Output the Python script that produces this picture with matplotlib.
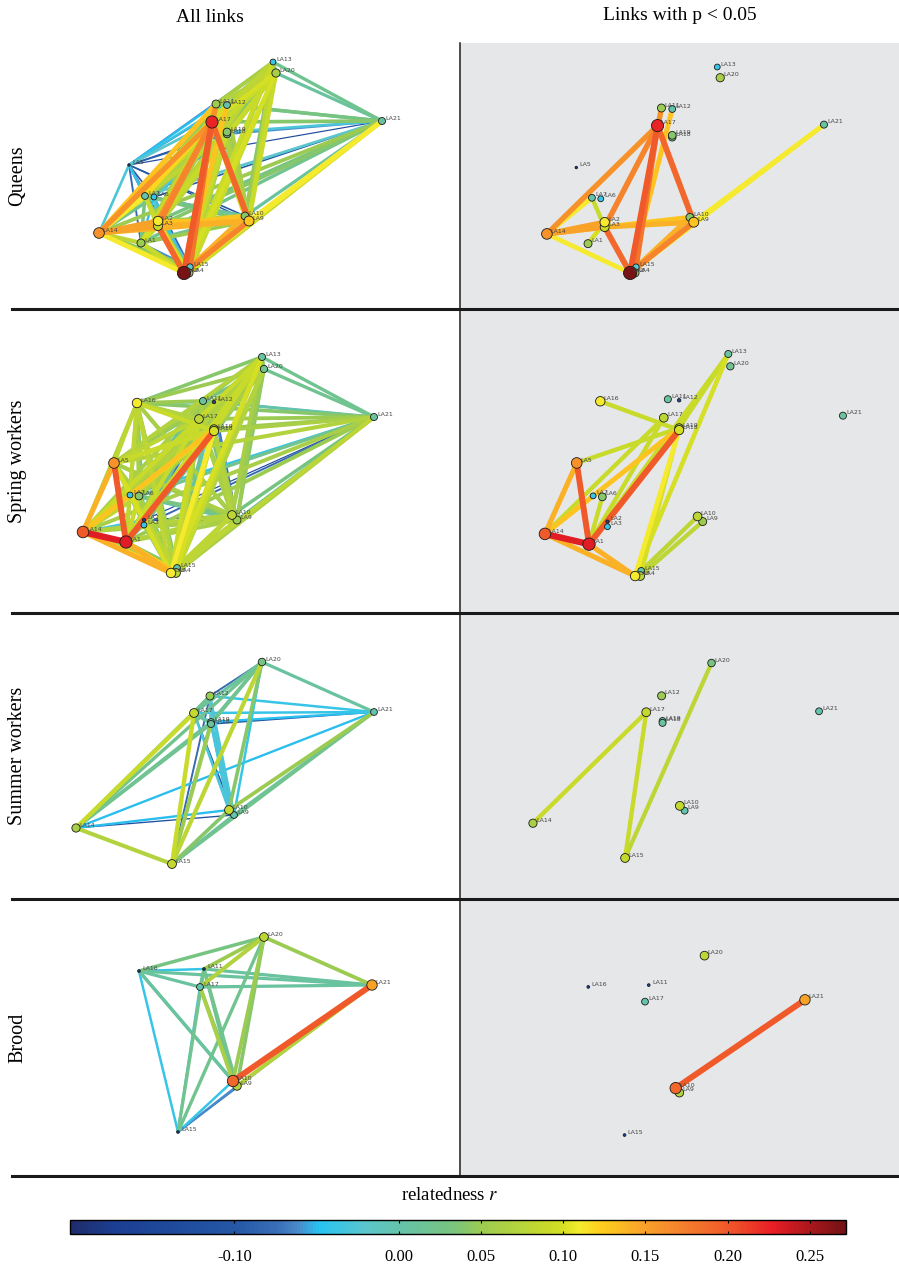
import matplotlib
matplotlib.use("Agg")
import matplotlib.pyplot as plt
from matplotlib.colors import LinearSegmentedColormap, Normalize
from matplotlib.cm import ScalarMappable
from matplotlib.lines import Line2D
from matplotlib.patches import Rectangle

plt.rcParams['font.family'] = ['Liberation Serif', 'DejaVu Serif']
plt.rcParams['mathtext.fontset'] = 'stix'
plt.rcParams['axes.unicode_minus'] = False

# ---------------- data (positions in layout units, r = relatedness) ----------------
row_titles = ["Queens", "Spring workers", "Summer workers", "Brood"]
col_titles = ["All links", "Links with p < 0.05"]

queens_nodes = ["LA1", "LA2", "LA3", "LA4", "LA5", "LA6", "LA7", "LA8", "LA9", "LA10",
                "LA11", "LA12", "LA13", "LA14", "LA15", "LA17", "LA18", "LA19", "LA20", "LA21"]
queens_x = [141, 158, 158, 189, 129, 154, 145, 184, 249, 245, 216, 227, 273, 99, 190, 212, 227, 227, 276, 382]
queens_y = [243, 221, 226, 273, 165, 197, 196, 273, 221, 216, 104, 105, 62, 233, 267, 122, 134, 132, 73, 121]
queens_node_r = [0.05, 0.11, 0.09, 0.05, -0.18, -0.04, 0.00, 0.27, 0.13, 0.04,
                 0.05, 0.00, -0.04, 0.16, -0.02, 0.225, 0.03, 0.04, 0.06, 0.01]
queens_r = [
    [0.10, 0.09, 0.06, -0.08, -0.05, 0.03, 0.09, 0.05, 0.02, 0.06, 0.04, 0.05, 0.08, -0.06, 0.09, 0.02, 0.03, 0.07, 0.02],
    [0.12, 0.08, -0.10, -0.03, 0.07, 0.12, 0.13, 0.06, 0.08, 0.07, 0.08, 0.15, -0.02, 0.16, 0.05, 0.06, 0.09, 0.03],
    [0.10, -0.12, -0.02, 0.09, 0.19, 0.14, 0.07, 0.07, 0.06, 0.07, 0.15, 0.00, 0.17, 0.04, 0.05, 0.08, 0.04],
    [-0.06, -0.04, 0.04, 0.12, 0.10, 0.08, 0.09, 0.08, 0.07, 0.10, -0.01, 0.18, 0.06, 0.07, 0.09, 0.09],
    [-0.10, -0.04, -0.08, -0.12, -0.10, -0.05, -0.07, -0.06, -0.03, -0.13, -0.02, -0.09, -0.11, -0.04, -0.13],
    [0.00, -0.05, -0.07, -0.09, -0.03, -0.05, -0.04, 0.02, -0.08, 0.03, -0.06, -0.05, -0.02, -0.10],
    [0.07, 0.03, 0.01, 0.05, 0.04, 0.08, 0.11, -0.04, 0.12, 0.02, 0.03, 0.07, -0.02],
    [0.17, 0.14, 0.16, 0.13, 0.09, 0.11, 0.02, 0.20, 0.08, 0.09, 0.10, 0.11],
    [0.06, 0.07, 0.06, 0.08, 0.14, -0.03, 0.19, 0.05, 0.06, 0.09, 0.11],
    [0.04, 0.03, 0.04, 0.13, -0.05, 0.10, 0.02, 0.03, 0.05, 0.01],
    [0.05, 0.06, 0.13, -0.02, 0.10, 0.04, 0.05, 0.07, 0.03],
    [0.03, 0.10, -0.04, 0.09, 0.02, 0.03, 0.06, 0.02],
    [0.07, -0.03, 0.08, 0.03, 0.02, 0.04, 0.02],
    [0.04, 0.16, 0.07, 0.08, 0.09, 0.05],
    [0.03, -0.05, -0.04, 0.02, -0.08],
    [0.06, 0.07, 0.10, 0.04],
    [0.03, 0.04, -0.06],
    [0.05, -0.03],
    [0.01],
]
queens_sig = [("LA14", "LA17"), ("LA14", "LA7"), ("LA14", "LA2"), ("LA14", "LA3"), ("LA14", "LA10"),
              ("LA14", "LA8"), ("LA7", "LA3"), ("LA1", "LA2"), ("LA17", "LA3"), ("LA17", "LA8"),
              ("LA17", "LA4"), ("LA17", "LA9"), ("LA11", "LA8"), ("LA12", "LA8"), ("LA3", "LA8"),
              ("LA9", "LA8"), ("LA10", "LA8"), ("LA8", "LA21"), ("LA9", "LA21"), ("LA3", "LA9")]

spring_nodes = ["LA1", "LA2", "LA3", "LA4", "LA5", "LA6", "LA7", "LA8", "LA9", "LA10", "LA11",
                "LA12", "LA13", "LA14", "LA15", "LA16", "LA17", "LA18", "LA19", "LA20", "LA21"]
spring_x = [126, 144, 144, 176, 114, 139, 130, 171, 237, 232, 203, 214, 262, 83, 177, 137, 199, 214, 214, 264, 374]
spring_y = [542, 520, 525, 573, 463, 496, 495, 573, 520, 515, 401, 402, 357, 532, 568, 403, 419, 431, 429, 369, 417]
spring_node_r = [0.23, -0.15, -0.04, 0.08, 0.16, 0.04, -0.04, 0.11, 0.05, 0.08, 0.01,
                 -0.14, 0.01, 0.20, 0.00, 0.11, 0.08, 0.10, 0.07, 0.02, 0.01]
spring_r = [
    [-0.05, 0.00, 0.13, 0.20, 0.09, 0.03, 0.14, 0.06, 0.07, 0.05, -0.03, 0.09, 0.23, 0.04, 0.08, 0.09, 0.20, 0.12, 0.06, 0.05],
    [-0.06, -0.02, -0.04, -0.05, -0.08, -0.03, -0.14, -0.12, -0.06, -0.10, -0.02, -0.03, -0.09, -0.04, -0.03, -0.05, -0.06, -0.04, -0.13],
    [0.02, 0.01, -0.02, -0.04, 0.03, -0.09, -0.10, 0.00, -0.07, 0.03, 0.02, -0.03, 0.03, 0.02, 0.00, -0.02, 0.01, -0.08],
    [0.08, 0.06, 0.02, 0.09, 0.08, 0.08, 0.05, -0.01, 0.09, 0.12, 0.04, 0.07, 0.08, 0.09, 0.10, 0.07, 0.06],
    [0.06, 0.04, 0.10, 0.05, 0.06, 0.06, 0.00, 0.07, 0.14, 0.05, 0.08, 0.08, 0.09, 0.09, 0.05, 0.07],
    [0.01, 0.06, 0.02, 0.03, 0.04, -0.04, 0.06, 0.08, 0.02, 0.06, 0.07, 0.06, 0.05, 0.05, 0.02],
    [0.03, -0.05, -0.03, 0.02, -0.06, 0.04, 0.06, -0.01, 0.05, 0.05, 0.03, 0.02, 0.03, -0.04],
    [0.07, 0.08, 0.06, 0.01, 0.10, 0.14, 0.03, 0.08, 0.09, 0.11, 0.09, 0.07, 0.08],
    [0.06, 0.02, -0.08, 0.05, 0.06, 0.06, 0.05, 0.05, 0.06, 0.05, 0.04, 0.01],
    [0.03, -0.06, 0.06, 0.07, 0.08, 0.06, 0.06, 0.07, 0.06, 0.05, 0.03],
    [-0.03, 0.04, 0.06, 0.02, 0.05, 0.04, 0.05, 0.04, 0.03, 0.00],
    [-0.04, 0.00, -0.05, -0.02, -0.03, -0.02, -0.04, -0.05, -0.07],
    [0.09, 0.03, 0.04, 0.07, 0.08, 0.09, 0.04, 0.02],
    [0.06, 0.07, 0.09, 0.10, 0.13, 0.07, 0.06],
    [0.04, 0.05, 0.04, 0.03, 0.02, -0.02],
    [0.07, 0.09, 0.07, 0.05, 0.04],
    [0.06, 0.06, 0.07, 0.05],
    [0.06, 0.06, 0.06],
    [0.05, 0.05],
    [0.02],
]
spring_sig = [("LA1", "LA14"), ("LA1", "LA5"), ("LA1", "LA18"), ("LA5", "LA14"), ("LA14", "LA8"),
              ("LA1", "LA8"), ("LA14", "LA19"), ("LA14", "LA17"), ("LA1", "LA17"), ("LA1", "LA13"),
              ("LA5", "LA19"), ("LA16", "LA18"), ("LA1", "LA6"), ("LA18", "LA8"), ("LA13", "LA8"),
              ("LA19", "LA4"), ("LA13", "LA19"), ("LA15", "LA10"), ("LA4", "LA9")]

summer_nodes = ["LA9", "LA10", "LA12", "LA14", "LA15", "LA17", "LA18", "LA19", "LA20", "LA21"]
summer_x = [234, 229, 210, 76, 172, 194, 211, 211, 262, 374]
summer_y = [815, 810, 696, 828, 864, 713, 724, 722, 662, 712]
summer_node_r = [0.00, 0.085, 0.05, 0.06, 0.085, 0.085, 0.01, 0.00, 0.03, 0.00]
summer_r = [
    [0.00, -0.03, -0.12, 0.01, -0.10, -0.04, -0.05, -0.04, 0.01],
    [-0.03, -0.05, 0.04, -0.03, -0.04, -0.03, 0.04, 0.05],
    [0.02, -0.08, 0.00, -0.02, -0.03, -0.08, -0.04],
    [0.07, 0.09, 0.02, 0.01, 0.02, -0.05],
    [0.09, 0.05, 0.02, 0.08, 0.02],
    [0.01, -0.02, 0.01, -0.04],
    [0.00, 0.02, -0.10],
    [0.01, -0.05],
    [0.01],
]
summer_sig = [("LA14", "LA17"), ("LA17", "LA15"), ("LA15", "LA20")]

brood_nodes = ["LA9", "LA10", "LA11", "LA15", "LA16", "LA17", "LA20", "LA21"]
brood_x = [237, 233, 204, 178, 139, 200, 264, 372]
brood_y = [1086, 1081, 969, 1132, 971, 987, 937, 985]
brood_node_r = [0.07, 0.19, -0.17, -0.17, -0.17, 0.00, 0.08, 0.15]
brood_r = [
    [0.04, 0.02, -0.06, 0.01, 0.02, 0.04, 0.07],
    [0.02, -0.04, 0.01, 0.06, 0.05, 0.20],
    [0.02, -0.04, 0.01, 0.05, 0.01],
    [-0.04, -0.03, 0.02, -0.07],
    [0.01, 0.03, 0.01],
    [0.07, 0.01],
    [0.05],
]
brood_sig = [("LA21", "LA10")]

cbar_ticks = [-0.10, 0.00, 0.05, 0.10, 0.15, 0.20, 0.25]

# ---------------- layout (pixels of the 899 x 1267 canvas) ----------------
W, H = 899, 1267
row_bounds = [(43, 309), (309, 613), (613, 899), (899, 1176)]
# right-panel mapping of layout coords: (sx, bx, sy, cy)
right_map = [(0.979, 450, 0.976, 6.5), (1.024, 460, 1.028, -13),
             (0.960, 460, 0.965, 24.2), (0.930, 459, 0.920, 93.6)]

vmin, vmax = -0.20, 0.272
stops = [(-0.20, '#202c6a'), (-0.172, '#1b3f94'), (-0.10, '#2457a5'), (-0.073, '#3a70b8'),
         (-0.061, '#4a8ccb'), (-0.049, '#27c3f2'), (-0.02, '#5cc6cc'), (0.0, '#64c3ac'),
         (0.035, '#7bc47a'), (0.05, '#9ccb52'), (0.099, '#d2de22'), (0.11, '#f4ec2e'),
         (0.123, '#fecf1e'), (0.149, '#f9a32a'), (0.175, '#f47d2c'), (0.20, '#f05a2a'),
         (0.228, '#ea1e25'), (0.248, '#b0181e'), (0.272, '#721214')]
cmap = LinearSegmentedColormap.from_list(
    'rel', [((v - vmin) / (vmax - vmin), c) for v, c in stops])
norm = Normalize(vmin, vmax)

PT = 72 / 100.0  # points per pixel at dpi 100


def edge_lw(r):
    return max(0.7, 0.9 + 14.5 * (r + 0.15)) * PT


def node_size(r):
    d = (2 + 24 * (r + 0.2)) * PT
    return d * d


def draw_panel(ax, names, xs, ys, node_r, tri, sig, only_sig):
    sigset = {frozenset(p) for p in sig}
    edges = []
    for i, row in enumerate(tri):
        for k, r in enumerate(row):
            j = i + 1 + k
            if only_sig and frozenset((names[i], names[j])) not in sigset:
                continue
            edges.append((r, i, j))
    edges.sort()
    for r, i, j in edges:
        ax.plot([xs[i], xs[j]], [ys[i], ys[j]], color=cmap(norm(r)), lw=edge_lw(r),
                solid_capstyle='butt', zorder=1)
    order = sorted(range(len(names)), key=lambda i: node_r[i])
    ax.scatter([xs[i] for i in order], [ys[i] for i in order],
               s=[node_size(node_r[i]) for i in order], c=[node_r[i] for i in order],
               cmap=cmap, norm=norm, edgecolors='#1a1a1a', linewidths=0.6, zorder=3)
    for n, x, y in zip(names, xs, ys):
        ax.annotate(n, (x, y), xytext=(2.3, 1.0), textcoords='offset points',
                    fontsize=4.5, color='#444444', family='DejaVu Sans', zorder=4)


fig = plt.figure(figsize=(W / 100, H / 100), dpi=100)

# grey background of the right column
fig.add_artist(Rectangle((461 / W, 1 - 1176 / H), (W - 461) / W, (1176 - 43) / H,
                         transform=fig.transFigure, facecolor='#e6e7e8', edgecolor='none', zorder=0))

data_rows = [
    (queens_nodes, queens_x, queens_y, queens_node_r, queens_r, queens_sig),
    (spring_nodes, spring_x, spring_y, spring_node_r, spring_r, spring_sig),
    (summer_nodes, summer_x, summer_y, summer_node_r, summer_r, summer_sig),
    (brood_nodes, brood_x, brood_y, brood_node_r, brood_r, brood_sig),
]

for k, (top, bot) in enumerate(row_bounds):
    names, xs, ys, nr, tri, sig = data_rows[k]
    axl = fig.add_axes([12 / W, 1 - bot / H, (460 - 12) / W, (bot - top) / H])
    axl.set_xlim(12, 460)
    axl.set_ylim(bot, top)
    axl.axis('off')
    draw_panel(axl, names, xs, ys, nr, tri, sig, False)

    sx, bx, sy, cy = right_map[k]
    axr = fig.add_axes([461 / W, 1 - bot / H, (W - 461) / W, (bot - top) / H])
    axr.set_xlim((461 - bx) / sx, (W - bx) / sx)
    axr.set_ylim((bot - cy) / sy, (top - cy) / sy)
    axr.axis('off')
    axr.patch.set_alpha(0)
    draw_panel(axr, names, xs, ys, nr, tri, sig, True)

    fig.text(18 / W, 1 - (top + bot) / 2 / H, row_titles[k], rotation=90,
             ha='center', va='center', fontsize=14.5)
    fig.add_artist(Line2D([12 / W, 1], [1 - bot / H, 1 - bot / H], color='#1a1a1a',
                          lw=2.2, transform=fig.transFigure, zorder=5))

fig.add_artist(Line2D([460 / W, 460 / W], [1 - 43 / H, 1 - 1176 / H], color='#1a1a1a',
                      lw=1.1, transform=fig.transFigure, zorder=5))

fig.text(210 / W, 1 - 18 / H, col_titles[0], ha='center', va='center', fontsize=14)
fig.text(680 / W, 1 - 15 / H, col_titles[1], ha='center', va='center', fontsize=14)

# colorbar
cax = fig.add_axes([70 / W, 1 - 1234 / H, (846 - 70) / W, 14 / H])
cb = fig.colorbar(ScalarMappable(norm=norm, cmap=cmap), cax=cax, orientation='horizontal')
cb.set_ticks(cbar_ticks)
cb.set_ticklabels(['%.2f' % t for t in cbar_ticks])
cb.outline.set_linewidth(1.0)
cax.tick_params(direction='in', length=2.5, width=0.8, top=True, bottom=True,
                labelsize=12, pad=11)
fig.text(450 / W, 1 - 1196 / H, r'relatedness $\mathit{r}$', ha='center', va='center',
         fontsize=13.5)

fig.savefig('out.png', dpi=100)
